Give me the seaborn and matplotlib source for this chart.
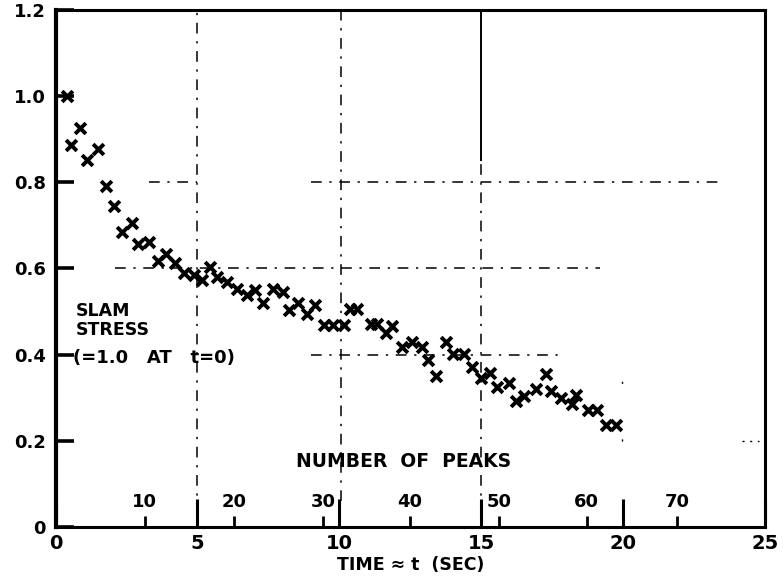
import matplotlib
matplotlib.use("Agg")
import matplotlib.pyplot as plt
import seaborn as sns
import pandas as pd

# ---- data ----
time_s = [0.40, 0.53, 0.86, 1.10, 1.51, 1.77, 2.06, 2.33, 2.69, 2.92,
          3.30, 3.62, 3.89, 4.20, 4.51, 4.88, 5.15, 5.44, 5.70, 6.03,
          6.39, 6.74, 7.03, 7.30, 7.68, 8.01, 8.24, 8.56, 8.86, 9.15,
          9.45, 9.78, 10.18, 10.39, 10.62, 11.10, 11.33, 11.66, 11.86, 12.21,
          12.57, 12.92, 13.12, 13.39, 13.75, 14.02, 14.39, 14.69, 15.01, 15.31,
          15.57, 15.98, 16.22, 16.51, 16.93, 17.28, 17.46, 17.81, 18.19, 18.34,
          18.75, 19.08, 19.40, 19.75]
slam_stress = [1.000, 0.886, 0.926, 0.852, 0.877, 0.791, 0.745, 0.684, 0.705, 0.657,
               0.662, 0.616, 0.633, 0.613, 0.589, 0.585, 0.573, 0.603, 0.581, 0.569,
               0.552, 0.538, 0.550, 0.520, 0.552, 0.546, 0.503, 0.520, 0.494, 0.515,
               0.469, 0.469, 0.469, 0.505, 0.505, 0.470, 0.470, 0.449, 0.466, 0.418,
               0.430, 0.418, 0.387, 0.349, 0.430, 0.401, 0.401, 0.371, 0.345, 0.357,
               0.324, 0.333, 0.293, 0.304, 0.319, 0.355, 0.316, 0.299, 0.285, 0.306,
               0.271, 0.271, 0.237, 0.237]

x_ticks = [0, 5, 10, 15, 20, 25]
y_ticks = [0, 0.2, 0.4, 0.6, 0.8, 1.0, 1.2]
y_tick_labels = ["0", "0.2", "0.4", "0.6", "0.8", "1.0", "1.2"]

peak_labels = ["10", "20", "30", "40", "50", "60", "70"]
peak_times = [3.15, 6.30, 9.44, 12.49, 15.64, 18.72, 21.91]

df = pd.DataFrame({"t": time_s, "stress": slam_stress})

# ---- figure ----
sns.set_theme(style="white")
plt.rcParams["font.family"] = ["DejaVu Sans"]
plt.rcParams["font.weight"] = "bold"
plt.rcParams["text.color"] = "black"
plt.rcParams["axes.labelcolor"] = "black"
plt.rcParams["xtick.color"] = "black"
plt.rcParams["ytick.color"] = "black"

fig = plt.figure(figsize=(7.83, 5.86), dpi=100)
ax = fig.add_axes([0.0709, 0.101, 0.977 - 0.0709, 0.983 - 0.101])

# grid: dash-dot, partially drawn like the scanned original
grid_kw = dict(color="black", linewidth=1.1, linestyle=(0, (7, 5, 1.5, 5)), zorder=1)
ax.vlines(5, 0.03, 1.2, **grid_kw)
ax.vlines(10.05, 0.06, 1.2, **grid_kw)
ax.vlines(15, 0.85, 1.2, color="black", linewidth=1.4, zorder=1)
ax.vlines(15, 0.03, 0.85, **grid_kw)
ax.vlines(19.95, 0.2, 0.43, color="black", linewidth=1.0,
          linestyle=(0, (1.5, 40)), zorder=1)
ax.hlines(0.8, 3.3, 5, **grid_kw)
ax.hlines(0.8, 9.0, 23.6, **grid_kw)
ax.hlines(0.6, 2.1, 19.2, **grid_kw)
ax.hlines(0.4, 9.0, 17.8, **grid_kw)
ax.hlines(0.2, 24.2, 24.8, color="black", linewidth=1.0,
          linestyle=(0, (1.5, 4)), zorder=1)

sns.scatterplot(data=df, x="t", y="stress", marker="x", s=60,
                color="black", linewidth=2.8, ax=ax, zorder=3, legend=False)

# number of peaks scale drawn inside the axes
ax.vlines(peak_times, 0, 0.024, color="black", linewidth=2.0, zorder=2)
for pt, lab in zip(peak_times, peak_labels):
    ax.text(pt, 0.036, lab, ha="center", va="bottom", fontsize=13,
            fontweight="bold", color="black")
ax.text(12.25, 0.151, "NUMBER  OF  PEAKS", ha="center", va="center",
        fontsize=13.5, fontweight="bold", color="black")

# in-plot y label
ax.text(0.72, 0.500, "SLAM", ha="left", va="center", fontsize=12.5,
        fontweight="bold", color="black")
ax.text(0.72, 0.457, "STRESS", ha="left", va="center", fontsize=12.5,
        fontweight="bold", color="black")
ax.text(0.62, 0.391, "(=1.0   AT   t=0)", ha="left", va="center", fontsize=13,
        fontweight="bold", color="black")

ax.set_xlim(0, 25)
ax.set_ylim(0, 1.2)
ax.set_xticks(x_ticks)
ax.set_xticklabels([str(v) for v in x_ticks])
ax.set_yticks(y_ticks)
ax.set_yticklabels(y_tick_labels)
ax.set_xlabel("TIME \u2248 t  (SEC)", fontsize=12.5, fontweight="bold", labelpad=2,
              color="black")
ax.set_ylabel("")

ax.tick_params(axis="x", direction="in", length=20, width=2.2, pad=5,
               labelsize=14, bottom=True, colors="black")
ax.tick_params(axis="y", direction="in", length=13, width=2.6, pad=7,
               labelsize=13, left=True, colors="black")
for lab in ax.get_xticklabels() + ax.get_yticklabels():
    lab.set_fontweight("bold")

for side, lw in [("left", 3.0), ("bottom", 2.2), ("right", 2.2), ("top", 2.2)]:
    ax.spines[side].set_visible(True)
    ax.spines[side].set_color("black")
    ax.spines[side].set_linewidth(lw)

fig.savefig("out.png", dpi=100)
